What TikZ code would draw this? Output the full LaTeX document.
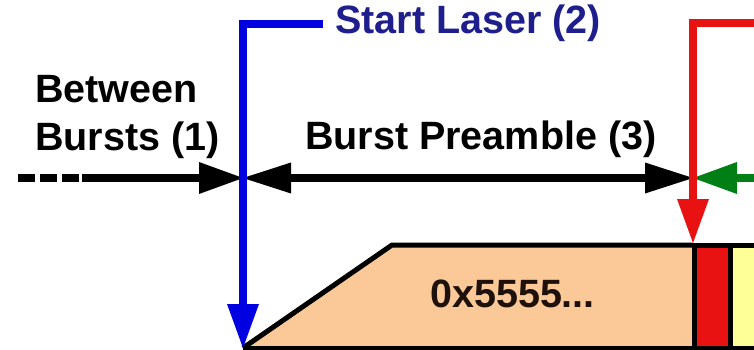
\documentclass[tikz,border=0pt]{standalone}
\usepackage{fontspec}
\setmainfont{Liberation Sans}
\usetikzlibrary{arrows.meta}
\definecolor{cLaser}{RGB}{0,0,225}
\definecolor{cLaserT}{RGB}{30,30,140}
\definecolor{cFlag}{RGB}{232,18,18}
\definecolor{cSync}{RGB}{0,128,20}
\definecolor{cPre}{RGB}{251,201,152}
\definecolor{cNext}{RGB}{255,255,152}
\definecolor{cEdge}{RGB}{0,0,0}
\definecolor{cText}{RGB}{30,16,10}

\begin{document}
\begin{tikzpicture}[
  x=1pt,y=-1pt, font=\fontsize{39.5}{48}\selectfont\bfseries, color=cEdge,
  lbl/.style    ={inner sep=0pt, anchor=base west},
  timeline/.style={line width=7.5pt, line join=miter},
  head/.style   ={-{Triangle[length=44pt,width=32pt,line width=0pt]}},
  span/.style   ={{Triangle[length=48pt,width=31pt,line width=0pt]}-{Triangle[length=48pt,width=31pt,line width=0pt]}},
  frame/.style  ={draw=cEdge, line width=5pt, line join=miter},
]

% ----- geometry --------------------------------------------------------
\def\yT{21}\def\yA{178}\def\yB{245}\def\yE{348}
\def\xL{243}\def\xF{693}\def\xR{754}

\clip (0,0) rectangle (\xR,350);

% ----- burst frame -----------------------------------------------------
\fill[cPre] (\xL,\yE) -- (392,\yB) -- (\xF,\yB) -- (\xF,\yE) -- cycle;
\draw[frame] (\xL,\yE) -- (392,\yB) -- (\xF,\yB);
\filldraw[frame,fill=cFlag] (\xF+1.5,\yB) rectangle (730.5,\yE);
\filldraw[frame,fill=cNext] (730.5,\yB) rectangle (\xR+10,\yE);
\draw[frame] (\xL,\yE) -- (\xR,\yE);
\node[lbl,cText] (preval) at (430,307) {0x5555...};

% ----- time line -------------------------------------------------------
\coordinate (laser)   at (\xL,\yA);
\coordinate (flag)    at (\xF,\yA);
\coordinate (idle)    at (82,\yA);
\coordinate (syncIn)  at (\xR,\yA);
\coordinate (laserOn) at (\xL,\yE);
\coordinate (flagTop) at (\xR,\yT+2);
\coordinate (flagOn)  at (\xF,\yB-2);

\draw[timeline,dash pattern=on 17pt off 5pt] (18,\yA) -- (79,\yA);
\draw[timeline,head] (idle) -- (laser);
\draw[timeline,span] (laser) -- (flag);
\draw[timeline,head,cSync] (syncIn) -- (flag);

% ----- markers ---------------------------------------------------------
\node[lbl,cLaserT] (startlbl) at (335,34) {Start Laser (2)};
\draw[timeline,head,cLaser,shorten <=12pt] (startlbl.west) -| (laserOn);
\draw[timeline,head,cFlag] (flagTop) -| (flagOn);

% ----- labels ----------------------------------------------------------
\node[lbl,align=left] (gap) at (35,150) {Between\\Bursts (1)};
\node[lbl] (prelbl) at (305,149) {Burst Preamble (3)};

\end{tikzpicture}
\end{document}
